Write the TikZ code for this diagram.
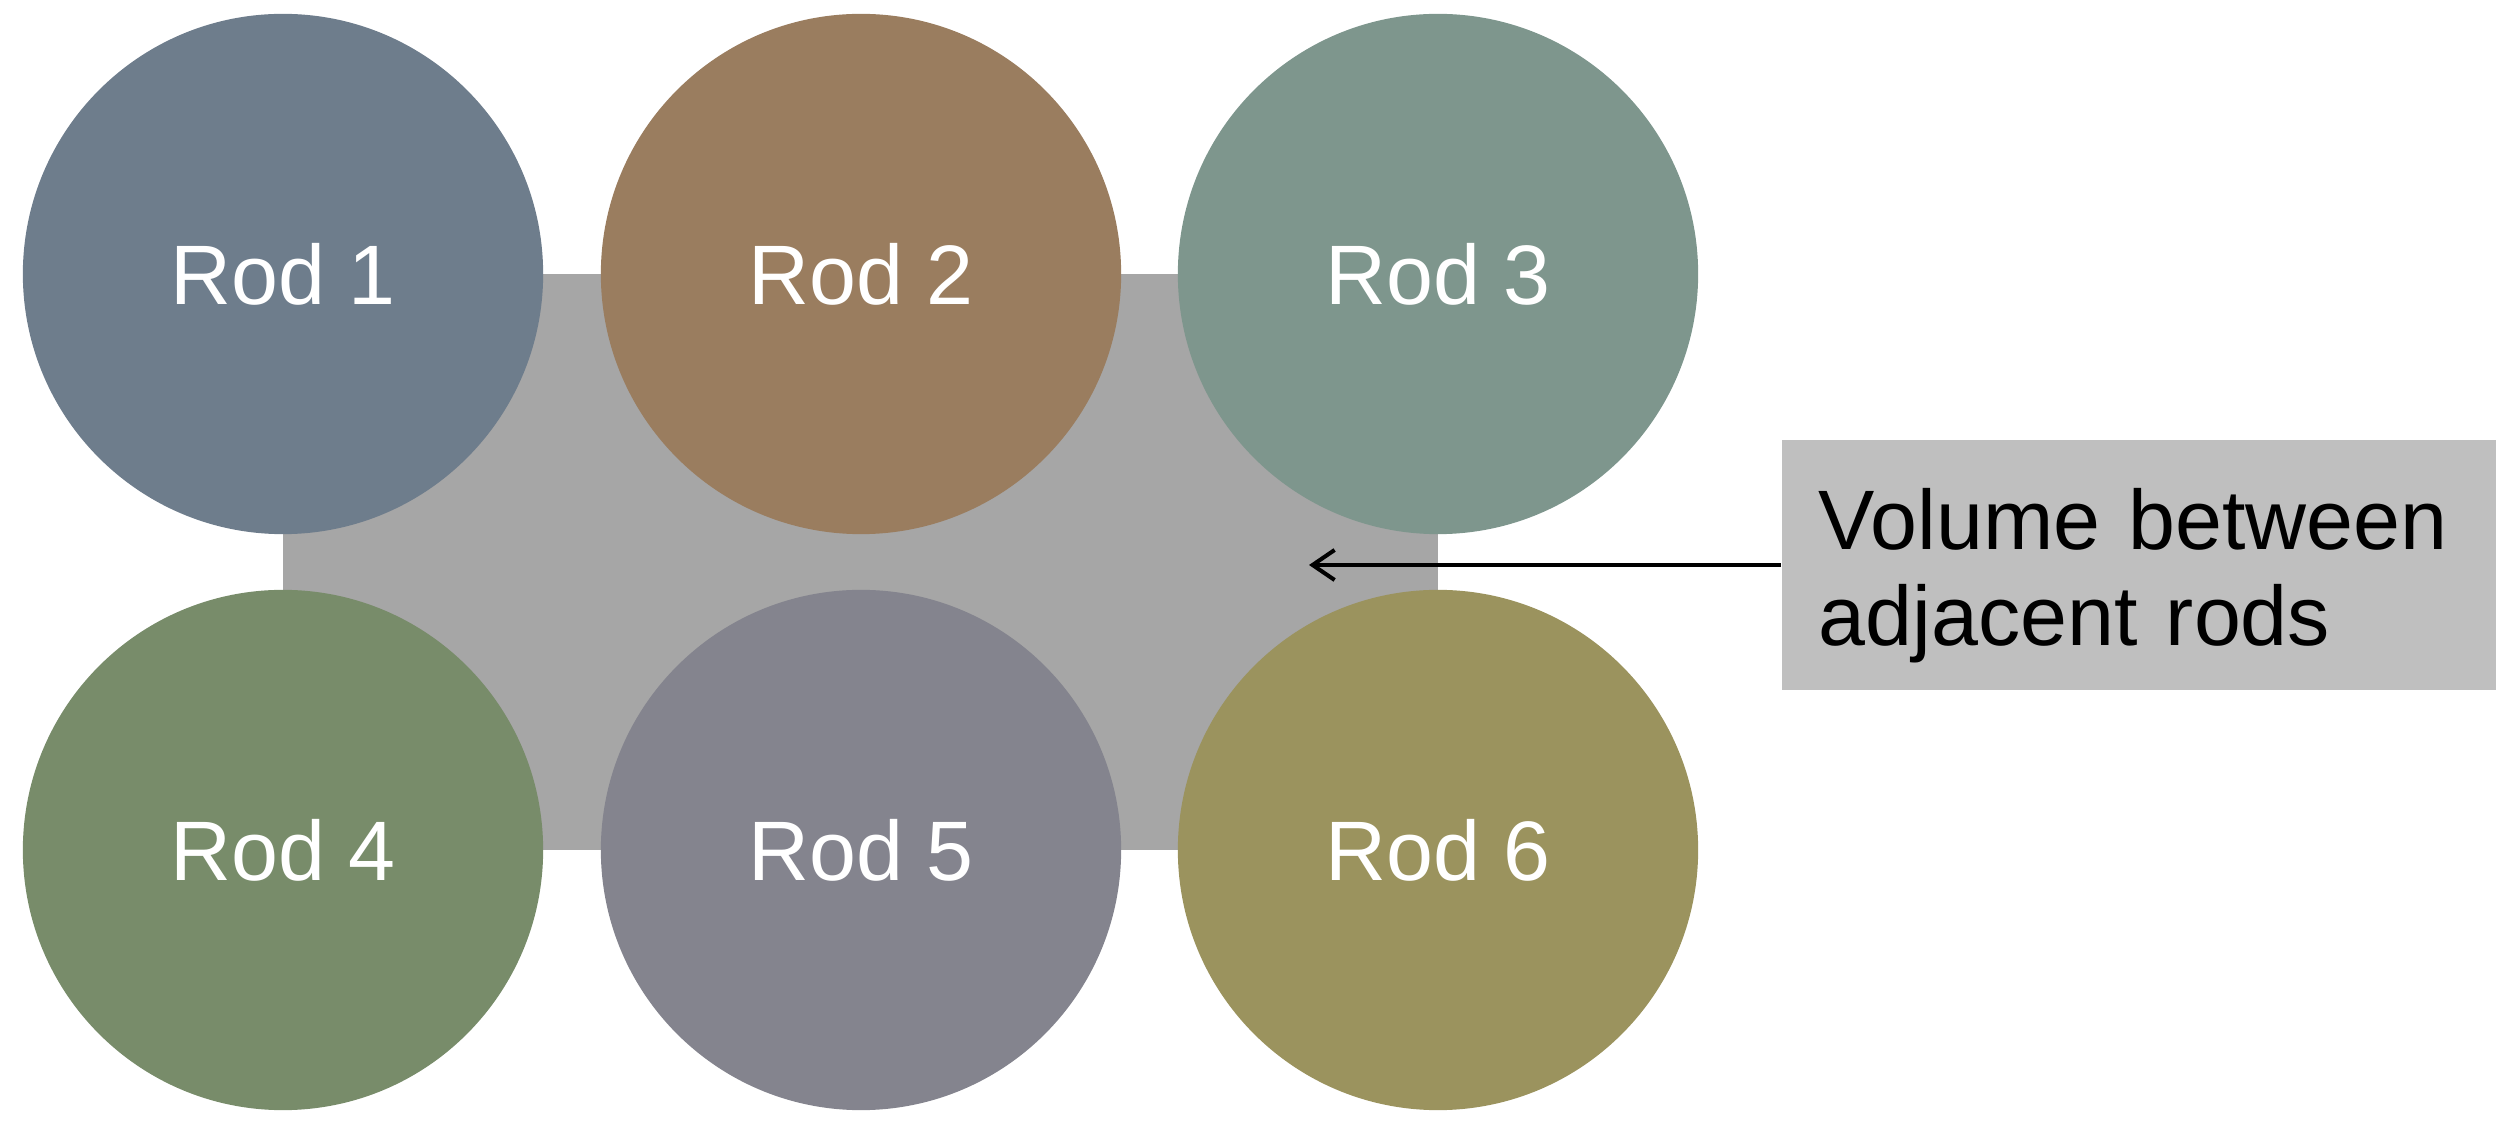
\documentclass[tikz,border=0pt]{standalone}
\usepackage{fontspec}
\setmainfont{Liberation Sans}
\usetikzlibrary{arrows.meta}
\definecolor{rodA}{HTML}{6E7D8C}
\definecolor{rodB}{HTML}{9A7D5F}
\definecolor{rodC}{HTML}{7E968D}
\definecolor{rodD}{HTML}{788C6A}
\definecolor{rodE}{HTML}{84848E}
\definecolor{rodF}{HTML}{9B935E}
\definecolor{volgray}{HTML}{A6A6A6}
\definecolor{boxgray}{HTML}{BFBFBF}
\tikzset{
  rod/.style={circle, minimum size=5.2cm, inner sep=0pt, draw=none, text=white,
    font=\fontsize{24}{27.3}\selectfont},
  volume/.style={rectangle, fill=volgray, draw=none, inner sep=0pt,
    minimum width=11.55cm, minimum height=5.76cm},
  callout/.style={rectangle, fill=boxgray, draw=none, inner sep=0pt,
    minimum width=7.14cm, minimum height=2.5cm},
  callouttext/.style={inner sep=0pt, text width=6.4cm, align=left, anchor=west,
    font=\fontsize{24}{27.3}\selectfont},
  pointer/.style={line width=1.15pt, -{Straight Barb[length=0.22cm, width=0.3cm, line width=1.15pt]}}
}
\begin{document}
\begin{tikzpicture}[x=0.01cm, y=-0.01cm]
\useasboundingbox (0,0) rectangle (2508,1125);
\node[volume] (vol) at (860.5,562) {};
\node[rod, fill=rodA] (r1) at (283,274) {Rod 1};
\node[rod, fill=rodB] (r2) at (861,274) {Rod 2};
\node[rod, fill=rodC] (r3) at (1438,274) {Rod 3};
\node[rod, fill=rodD] (r4) at (283,850) {Rod 4};
\node[rod, fill=rodE] (r5) at (861,850) {Rod 5};
\node[rod, fill=rodF] (r6) at (1438,850) {Rod 6};
\node[callout] (lbl) at (2139,565) {};
\node[callouttext] (lbltxt) at ([xshift=0.37cm, yshift=-0.11cm]lbl.west) {Volume between\\adjacent rods};
\coordinate (tip) at (1309,565);
\draw[pointer] (lbl.west) -- (tip);
\end{tikzpicture}
\end{document}
